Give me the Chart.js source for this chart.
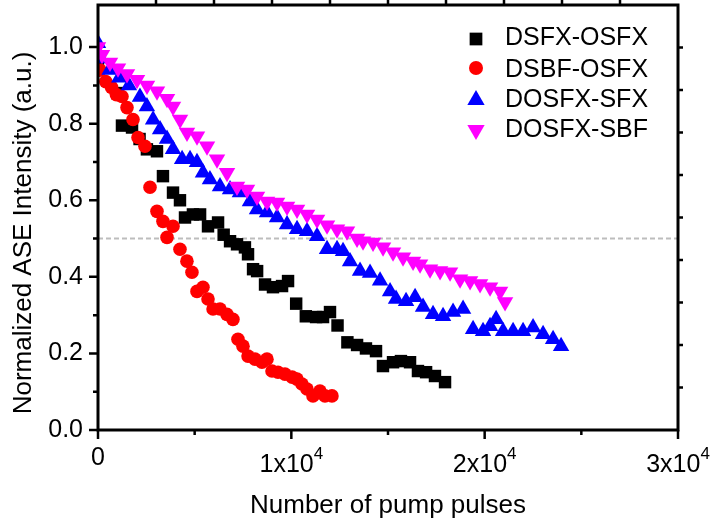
<!DOCTYPE html>
<html>
<head>
<meta charset="utf-8">
<script src="https://cdn.jsdelivr.net/npm/chart.js@4.4.0/dist/chart.umd.min.js"></script>
<style>
    body { margin: 0; background: #ffffff; }
    #wrap { width: 713px; height: 529px; }
</style>
</head>
<body>
<div id="wrap"><canvas id="myChart" width="713" height="529"></canvas></div>
<script>
const FONT = '"Liberation Sans", Arial, sans-serif';

const seriesNames = ['DSFX-OSFX', 'DSBF-OSFX', 'DOSFX-SFX', 'DOSFX-SBF'];
const seriesColors = ['#000000', '#ff0000', '#0000ff', '#ff00ff'];

// DSFX-OSFX (black squares)
const dsfxOsfxX = [0, 1000, 1240, 1760, 2150, 2530, 3050, 3360, 3880, 4240, 4500, 4910, 5280, 5690, 6210, 6500, 6830, 7190, 7600, 7760, 8020, 8230, 8640, 9050, 9520, 9830, 10250, 10750, 11280, 11640, 12000, 12390, 12900, 13400, 13860, 14380, 14740, 15260, 15670, 16140, 16550, 16970, 17430, 17950];
const dsfxOsfxY = [0.97, 0.88, 0.795, 0.79, 0.76, 0.733, 0.728, 0.663, 0.62, 0.60, 0.555, 0.563, 0.563, 0.532, 0.542, 0.51, 0.493, 0.485, 0.477, 0.459, 0.42, 0.415, 0.38, 0.373, 0.376, 0.389, 0.33, 0.297, 0.295, 0.295, 0.308, 0.273, 0.229, 0.222, 0.213, 0.206, 0.167, 0.177, 0.18, 0.177, 0.154, 0.151, 0.141, 0.125];

// DSBF-OSFX (red circles)
const dsbfOsfxX = [100, 400, 700, 950, 1240, 1500, 1810, 2070, 2430, 2690, 3050, 3360, 3570, 3880, 4240, 4600, 4860, 5120, 5430, 5690, 5950, 6310, 6670, 6980, 7240, 7500, 7760, 8120, 8480, 8740, 9000, 9310, 9670, 10040, 10290, 10550, 10810, 11120, 11480, 11740, 12100];
const dsbfOsfxY = [0.94, 0.91, 0.895, 0.876, 0.871, 0.842, 0.811, 0.764, 0.741, 0.634, 0.571, 0.545, 0.503, 0.532, 0.472, 0.441, 0.412, 0.362, 0.373, 0.342, 0.316, 0.316, 0.302, 0.289, 0.237, 0.219, 0.193, 0.185, 0.177, 0.185, 0.154, 0.151, 0.146, 0.138, 0.133, 0.12, 0.107, 0.089, 0.102, 0.089, 0.089];

// DOSFX-SFX (blue triangles)
const dosfxSfxX = [0, 150, 600, 1100, 1600, 2170, 2530, 2850, 3210, 3570, 3880, 4350, 4760, 5120, 5430, 5790, 6310, 6830, 7340, 7860, 8225, 8743, 9260, 9778, 10295, 10812, 11330, 11847, 12364, 12675, 13037, 13554, 14071, 14589, 15106, 15416, 15934, 16400, 16813, 17330, 17848, 18365, 18883, 19400, 19917, 20279, 20590, 20952, 21469, 21986, 22504, 23021, 23538, 23952];
const dosfxSfxY = [1.01, 0.97, 0.94, 0.92, 0.90, 0.87, 0.845, 0.81, 0.785, 0.76, 0.733, 0.707, 0.707, 0.699, 0.672, 0.654, 0.636, 0.628, 0.62, 0.597, 0.576, 0.568, 0.555, 0.537, 0.524, 0.519, 0.506, 0.472, 0.472, 0.467, 0.44, 0.415, 0.41, 0.39, 0.362, 0.342, 0.336, 0.347, 0.321, 0.302, 0.297, 0.308, 0.316, 0.263, 0.258, 0.271, 0.289, 0.258, 0.258, 0.258, 0.268, 0.25, 0.237, 0.219];

// DOSFX-SBF (magenta inverted triangles)
const dosfxSbfX = [0, 207, 621, 1035, 1500, 2018, 2535, 3052, 3570, 3880, 4242, 4604, 5122, 5639, 6156, 6674, 7191, 7708, 8225, 8743, 9260, 9778, 10295, 10812, 11330, 11847, 12364, 12881, 13399, 13709, 14227, 14744, 15261, 15778, 16296, 16658, 17175, 17693, 18210, 18727, 19245, 19762, 20279, 20797, 21055];
const dosfxSbfY = [1.0, 0.98, 0.96, 0.945, 0.93, 0.915, 0.9, 0.885, 0.865, 0.845, 0.811, 0.777, 0.767, 0.741, 0.707, 0.672, 0.636, 0.628, 0.61, 0.597, 0.594, 0.584, 0.576, 0.563, 0.55, 0.535, 0.524, 0.519, 0.50, 0.493, 0.49, 0.477, 0.464, 0.451, 0.44, 0.433, 0.42, 0.415, 0.412, 0.394, 0.389, 0.381, 0.373, 0.362, 0.334];

// reference line at half intensity
const halfLineX = [0, 30000];
const halfLineY = [0.5, 0.5];

// axis ticks
const xMajorTicks = [0, 10000, 20000, 30000];
const xTickBase = ['0', '1x10', '2x10', '3x10'];
const xTickExp = ['', '4', '4', '4'];
const xMinorTicks = [5000, 15000, 25000];
const xTopTicks = [3000, 6000, 9000, 12000, 15000, 18000, 21000, 24000, 27000];
const yMajorTicks = [0, 0.2, 0.4, 0.6, 0.8, 1.0];
const yMinorTicks = [0.1, 0.3, 0.5, 0.7, 0.9];
const yRightTicks = [0.111, 0.222, 0.333, 0.444, 0.555, 0.666, 0.777, 0.888, 0.999];

function zip(xs, ys) {
    return xs.map((x, i) => ({ x: x, y: ys[i] }));
}

function drawMarker(ctx, kind, x, y, r, color) {
    ctx.fillStyle = color;
    ctx.beginPath();
    if (kind == 'rect') {
        const s = r * Math.SQRT1_2;
        ctx.rect(x - s, y - s, 2 * s, 2 * s);
    } else if (kind == 'circle') {
        ctx.arc(x, y, r, 0, Math.PI * 2);
    } else {
        const dir = kind == 'down' ? -1 : 1;
        ctx.moveTo(x, y - dir * r);
        ctx.lineTo(x + r * 0.866, y + dir * r / 2);
        ctx.lineTo(x - r * 0.866, y + dir * r / 2);
        ctx.closePath();
    }
    ctx.fill();
}

const frame = {
    id: 'frame',
    afterDraw(chart) {
        const ctx = chart.ctx;
        const a = chart.chartArea;
        const xs = chart.scales.x;
        const ys = chart.scales.y;
        ctx.save();
        ctx.strokeStyle = '#000';
        ctx.lineWidth = 3;
        ctx.strokeRect(a.left, a.top, a.right - a.left, a.bottom - a.top);

        ctx.lineWidth = 2.5;
        ctx.beginPath();
        xMajorTicks.forEach(v => { const p = xs.getPixelForValue(v); ctx.moveTo(p, a.bottom); ctx.lineTo(p, a.bottom + 9); });
        xMinorTicks.forEach(v => { const p = xs.getPixelForValue(v); ctx.moveTo(p, a.bottom); ctx.lineTo(p, a.bottom + 5); });
        xTopTicks.forEach(v => { const p = xs.getPixelForValue(v); ctx.moveTo(p, a.top); ctx.lineTo(p, a.top - 5); });
        yMajorTicks.forEach(v => { const p = ys.getPixelForValue(v); ctx.moveTo(a.left, p); ctx.lineTo(a.left - 9, p); });
        yMinorTicks.forEach(v => { const p = ys.getPixelForValue(v); ctx.moveTo(a.left, p); ctx.lineTo(a.left - 5, p); });
        yRightTicks.forEach(v => { const p = ys.getPixelForValue(v); ctx.moveTo(a.right, p); ctx.lineTo(a.right + 5, p); });
        ctx.stroke();

        // x tick labels with superscript exponent
        ctx.fillStyle = '#000';
        ctx.textBaseline = 'alphabetic';
        ctx.textAlign = 'left';
        xMajorTicks.forEach((v, i) => {
            const p = xs.getPixelForValue(v);
            ctx.font = '25px ' + FONT;
            const wb = ctx.measureText(xTickBase[i]).width;
            ctx.font = '17px ' + FONT;
            const we = xTickExp[i] ? ctx.measureText(xTickExp[i]).width : 0;
            const left = p - (wb + we) / 2;
            const base = xTickExp[i] ? 472 : 465;
            ctx.font = '25px ' + FONT;
            ctx.fillText(xTickBase[i], left, base);
            if (xTickExp[i]) {
                ctx.font = '17px ' + FONT;
                ctx.fillText(xTickExp[i], left + wb, 459);
            }
        });

        // axis titles
        ctx.font = '26px ' + FONT;
        ctx.textAlign = 'center';
        ctx.fillText('Number of pump pulses', (a.left + a.right) / 2, 513);
        ctx.save();
        ctx.translate(31, 233);
        ctx.rotate(-Math.PI / 2);
        ctx.fillText('Normalized ASE Intensity (a.u.)', 0, 0);
        ctx.restore();

        // legend
        const kinds = ['rect', 'circle', 'up', 'down'];
        const sizes = [9, 7, 10, 10];
        const markerY = [39, 68, 100, 130];
        const textY = [45, 77, 107, 137];
        ctx.font = '25px ' + FONT;
        ctx.textAlign = 'left';
        seriesNames.forEach((name, i) => {
            drawMarker(ctx, kinds[i], 476, markerY[i], sizes[i], seriesColors[i]);
            ctx.fillStyle = '#000';
            ctx.fillText(name, 505, textY[i]);
        });
        ctx.restore();
    }
};

const ctx = document.getElementById('myChart').getContext('2d');
const myChart = new Chart(ctx, {
    type: 'scatter',
    data: {
        datasets: [
            {
                label: 'half',
                data: zip(halfLineX, halfLineY),
                showLine: true,
                borderColor: '#bdbdbd',
                borderWidth: 2,
                borderDash: [5, 3],
                pointRadius: 0,
                order: 10
            },
            {
                label: seriesNames[0],
                data: zip(dsfxOsfxX, dsfxOsfxY),
                pointStyle: 'rect',
                pointRadius: 8.8,
                backgroundColor: seriesColors[0],
                borderWidth: 0,
                order: 4
            },
            {
                label: seriesNames[1],
                data: zip(dsbfOsfxX, dsbfOsfxY),
                pointStyle: 'circle',
                pointRadius: 6.8,
                backgroundColor: seriesColors[1],
                borderWidth: 0,
                order: 3
            },
            {
                label: seriesNames[2],
                data: zip(dosfxSfxX, dosfxSfxY),
                pointStyle: 'triangle',
                pointRadius: 9.5,
                backgroundColor: seriesColors[2],
                borderWidth: 0,
                order: 2
            },
            {
                label: seriesNames[3],
                data: zip(dosfxSbfX, dosfxSbfY),
                pointStyle: 'triangle',
                rotation: 180,
                pointRadius: 9.5,
                backgroundColor: seriesColors[3],
                borderWidth: 0,
                order: 1
            }
        ]
    },
    options: {
        responsive: false,
        animation: false,
        events: [],
        layout: { autoPadding: false, padding: { top: 5, right: 35, left: 0, bottom: 0 } },
        plugins: {
            legend: { display: false },
            tooltip: { enabled: false }
        },
        scales: {
            x: {
                type: 'linear',
                min: 0,
                max: 30000,
                grid: { display: false, drawTicks: false },
                border: { display: false },
                ticks: { display: false },
                afterFit: (scale) => {
                    scale.height = 99;
                    scale.paddingLeft = 0;
                    scale.paddingRight = 0;
                }
            },
            y: {
                type: 'linear',
                min: 0,
                max: 1.11,
                grid: { display: false, drawTicks: false },
                border: { display: false },
                ticks: {
                    stepSize: 0.2,
                    includeBounds: false,
                    padding: 15,
                    color: '#000',
                    font: { family: FONT, size: 25 },
                    callback: (v) => v.toFixed(1)
                },
                afterFit: (scale) => {
                    scale.width = 98;
                    scale.paddingTop = 0;
                    scale.paddingBottom = 0;
                }
            }
        }
    },
    plugins: [frame]
});
</script>
</body>
</html>
